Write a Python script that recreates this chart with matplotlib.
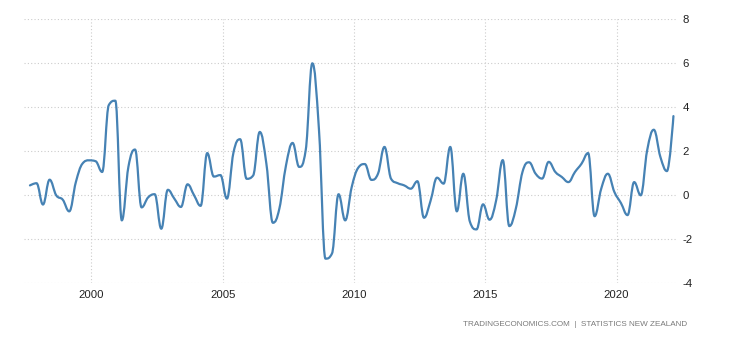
import matplotlib
matplotlib.use('Agg')
import matplotlib.pyplot as plt
import matplotlib.dates as mdates
from matplotlib.path import Path
from matplotlib.patches import PathPatch
import numpy as np
import pandas as pd

# quarterly readings, Q3 1997 .. Q1 2022
quarters = pd.date_range('1997-09-01', periods=99, freq='3MS')
values = [
    0.45, 0.55, -0.42, 0.71, 0.0, -0.2, -0.73, 0.6, 1.44, 1.59,
    1.55, 1.06, 4.1, 4.3, -1.14, 1.3, 2.08, -0.55, -0.1, 0.05,
    -1.52, 0.25, -0.15, -0.53, 0.5, 0.0, -0.48, 1.92, 0.85, 0.92,
    -0.15, 1.95, 2.55, 0.75, 0.9, 2.88, 1.44, -1.25, -0.6, 1.36,
    2.38, 1.29, 2.05, 6.0, 3.0, -2.88, -2.65, 0.05, -1.14, 0.38,
    1.25, 1.42, 0.7, 0.98, 2.2, 0.75, 0.55, 0.45, 0.3, 0.64,
    -1.02, -0.25, 0.8, 0.53, 2.2, -0.73, 0.98, -1.2, -1.55, -0.41,
    -1.11, -0.23, 1.6, -1.4, -0.6, 1.06, 1.5, 0.98, 0.76, 1.52,
    1.06, 0.83, 0.6, 1.06, 1.44, 1.92, -0.95, 0.3, 0.98, 0.15,
    -0.35, -0.9, 0.6, 0.0, 2.05, 2.98, 1.74, 1.1, 3.6,
]
year_ticks = [2000, 2005, 2010, 2015, 2020]
y_ticks = [-4, -2, 0, 2, 4, 6, 8]
source_text = 'TRADINGECONOMICS.COM  |  STATISTICS NEW ZEALAND'

LINE_COLOR = '#4682b4'
GRID_COLOR = '#cccccc'


def spline_path(xs, ys, smoothing=1.5):
    # bezier spline with control points kept inside neighbouring values
    denom = smoothing + 1
    n = len(xs)
    left = [(xs[i], ys[i]) for i in range(n)]
    right = [(xs[i], ys[i]) for i in range(n)]
    for i in range(1, n - 1):
        x, y = xs[i], ys[i]
        lx, ly = xs[i - 1], ys[i - 1]
        nx, ny = xs[i + 1], ys[i + 1]
        lcx = (smoothing * x + lx) / denom
        lcy = (smoothing * y + ly) / denom
        rcx = (smoothing * x + nx) / denom
        rcy = (smoothing * y + ny) / denom
        corr = 0.0
        if rcx != lcx:
            corr = (rcy - lcy) * (rcx - x) / (rcx - lcx) + y - rcy
        lcy += corr
        rcy += corr
        if lcy > ly and lcy > y:
            lcy = max(ly, y)
            rcy = 2 * y - lcy
        elif lcy < ly and lcy < y:
            lcy = min(ly, y)
            rcy = 2 * y - lcy
        if rcy > ny and rcy > y:
            rcy = max(ny, y)
            lcy = 2 * y - rcy
        elif rcy < ny and rcy < y:
            rcy = min(ny, y)
            lcy = 2 * y - rcy
        left[i] = (lcx, lcy)
        right[i] = (rcx, rcy)

    verts = [(xs[0], ys[0])]
    codes = [Path.MOVETO]
    for i in range(1, n):
        verts += [right[i - 1], left[i], (xs[i], ys[i])]
        codes += [Path.CURVE4] * 3
    return Path(verts, codes)


xs = mdates.date2num(quarters.to_pydatetime())
ys = np.array(values)

fig = plt.figure(figsize=(7.5, 3.41), dpi=100)
ax = fig.add_axes([0.032, 0.1692, 0.8707, 0.7742])

ax.add_patch(PathPatch(spline_path(xs, ys), facecolor='none',
                       edgecolor=LINE_COLOR, linewidth=1.6,
                       capstyle='round', joinstyle='round'))

ax.set_xlim(mdates.date2num(pd.Timestamp('1997-06-10')),
            mdates.date2num(pd.Timestamp('2022-04-20')))
ax.set_ylim(-4, 8)

tick_pos = [mdates.date2num(pd.Timestamp(f'{y}-01-01')) for y in year_ticks]
ax.set_xticks(tick_pos)
ax.set_xticklabels([str(y) for y in year_ticks])
ax.set_yticks(y_ticks)
ax.set_yticklabels([str(v) for v in y_ticks])
ax.yaxis.tick_right()

for lab in ax.get_xticklabels() + ax.get_yticklabels():
    lab.set_fontfamily('Liberation Sans')
    lab.set_fontsize(8.2)
    lab.set_color('#222222')

ax.tick_params(axis='both', length=0)
ax.tick_params(axis='x', pad=5)
ax.tick_params(axis='y', pad=4)

ax.grid(True, color=GRID_COLOR, linestyle=(0, (1, 2)), linewidth=0.8)
ax.set_axisbelow(True)
for side in ax.spines.values():
    side.set_visible(False)

fig.text(0.916, 0.047, source_text, ha='right', va='center',
         fontsize=5.85, color='#7a7a7a', family='Liberation Sans')

fig.savefig('out.png', dpi=100)
